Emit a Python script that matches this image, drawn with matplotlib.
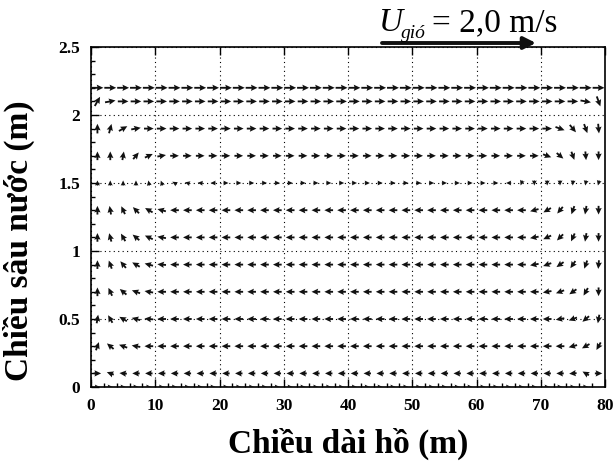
import numpy as np
import matplotlib
matplotlib.use('Agg')
import matplotlib.pyplot as plt
from matplotlib.ticker import MultipleLocator, FuncFormatter

nan = np.nan

# ── data ────────────────────────────────────────────────────────────
x_cols = np.arange(1, 80, 2)          # arrow columns along the lake (m)
row_y = [0.0, 0.1, 0.3, 0.5, 0.7, 0.9, 1.1, 1.3, 1.5, 1.7, 1.9, 2.1, 2.2]
row_len = [0.8, 1.15, 1.35, 1.35, 1.35, 1.35, 1.35, 1.35, 0.8, 1.35, 1.5, 1.65, 1.85]
row_dir = [0, 180, 180, 180, 180, 180, 180, 180, 0, 0, 0, 0, 0]  # interior direction (deg)

# directions of the first / last arrows in each row, near the walls (deg)
left_ang = [
    [],
    [0, 160, 175],
    [70, 140, 160, 170],
    [80, 120, 150, 165, 175],
    [90, 115, 140, 160, 170],
    [90, 110, 130, 150, 165, 175],
    [90, 105, 120, 140, 155, 170],
    [90, 100, 115, 135, 150, 165],
    [90, 90, 90, 90, 100, 110, 150, 165, 175, 180],
    [90, 90, 80, 50, 25, 10],
    [90, 75, 30, 10],
    [60, 10],
    [],
]
right_ang = [
    [nan],
    [185, 150, 0],
    [195, 210, 240],
    [190, 200, 220, 260],
    [190, 200, 215, 240, 270],
    [190, 200, 215, 235, 250, 265],
    [190, 205, 225, 245, 260, 270],
    [195, 210, 230, 250, 260, 270],
    [180, 250, 270, 270, 270, 265, 260, 255],
    [-20, -40, -70, -85, -90],
    [-20, -50, -70, -85],
    [-10, -70],
    [],
]

x_ticks = [0, 10, 20, 30, 40, 50, 60, 70, 80]
y_ticks = [0, 0.5, 1, 1.5, 2, 2.5]

# ── build the vector field ──────────────────────────────────────────
X, Y, A, L = [], [], [], []
n = len(x_cols)
for y, ln, d, la, ra in zip(row_y, row_len, row_dir, left_ang, right_ang):
    ang = np.full(n, float(d))
    if la:
        ang[:len(la)] = la
    if ra:
        ang[n - len(ra):] = ra
    keep = ~np.isnan(ang)
    X += list(x_cols[keep])
    Y += [y] * int(keep.sum())
    A += list(ang[keep])
    L += [ln] * int(keep.sum())
X, Y, A, L = map(np.array, (X, Y, A, L))
U = L * np.cos(np.radians(A))
V = L * np.sin(np.radians(A))

# ── plot ────────────────────────────────────────────────────────────
plt.rcParams['font.family'] = ['Liberation Serif', 'DejaVu Serif']
fig = plt.figure(figsize=(6.15, 4.68), dpi=100)
ax = fig.add_axes([91 / 615, 1 - 387 / 468, (605 - 91) / 615, (387 - 47) / 468])

ax.quiver(X, Y, U, V, angles=A, scale_units='x', scale=1, pivot='middle',
          width=0.0036, headwidth=3.4, headlength=3.6, headaxislength=3.2,
          color='#111111', zorder=3)

ax.set_xlim(0, 80)
ax.set_ylim(0, 2.5)
ax.set_xticks(x_ticks)
ax.set_yticks(y_ticks)
ax.xaxis.set_minor_locator(MultipleLocator(2))
ax.yaxis.set_minor_locator(MultipleLocator(0.1))
ax.yaxis.set_major_formatter(FuncFormatter(lambda v, p: f'{v:g}'))
ax.grid(True, which='major', ls=(0, (1, 3)), color='k', lw=0.8)

ax.tick_params(which='both', direction='in', labelsize=12.5, width=1)
ax.tick_params(which='major', length=6, pad=8, top=True)
ax.tick_params(which='minor', length=3)
for lbl in ax.get_xticklabels() + ax.get_yticklabels():
    lbl.set_fontweight('bold')
for s in ax.spines.values():
    s.set_linewidth(1.2)

ax.set_xlabel('Chiều dài hồ (m)', fontsize=24, fontweight='bold', labelpad=10)
ax.set_ylabel('Chiều sâu nước (m)', fontsize=24, fontweight='bold')
ax.yaxis.set_label_coords(-0.108, 0.43)

# wind label and arrow
fig.text(379 / 615, 1 - 31 / 468, 'U', fontsize=24, style='italic', va='baseline')
fig.text(401 / 615, 1 - 38 / 468, 'gió', fontsize=14, style='italic', va='baseline')
fig.text(432 / 615, 1 - 31 / 468, '= 2,0 m/s', fontsize=24, va='baseline')
ax.annotate('', xy=(536 / 615, 1 - 43 / 468), xytext=(382 / 615, 1 - 43 / 468),
            xycoords='figure fraction', textcoords='figure fraction',
            arrowprops=dict(arrowstyle='-|>', lw=2.8, color='#111111',
                            mutation_scale=18, shrinkA=0, shrinkB=0))

fig.savefig('out.png', dpi=100)
